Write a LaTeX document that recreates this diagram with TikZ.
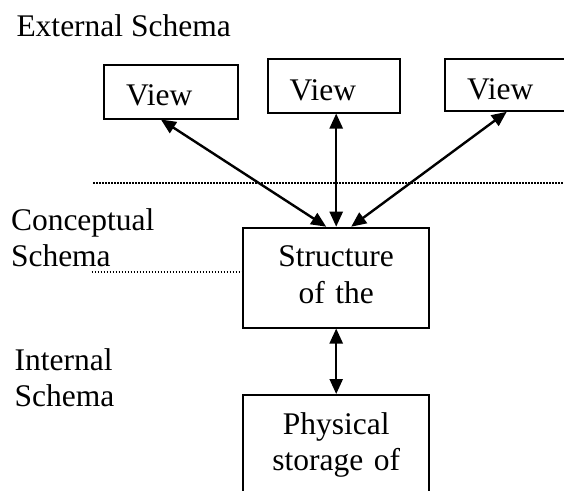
\documentclass[tikz,border=0pt]{standalone}
\usepackage{fontspec}
\setmainfont{Liberation Serif}
\usetikzlibrary{arrows.meta}
\tikzset{
  box/.style={draw, line width=1.8pt, inner ysep=0pt, anchor=north west},
  lbl/.style={inner sep=0pt, anchor=base west, align=left},
  arr/.style={{Triangle[length=15pt,width=13pt]}-{Triangle[length=15pt,width=13pt]}, line width=2.4pt},
  dotline/.style={line width=1.7pt, dash pattern=on 1.5pt off 1.5pt}
}
\begin{document}
\begin{tikzpicture}[x=1pt,y=-1pt,font=\fontsize{31.5}{36.5}\selectfont]
\useasboundingbox (0,0) rectangle (564,490);
\clip (0,0) rectangle (564,490);
% labels (base anchor = baseline of the last line)
\node[lbl] (ext) at (16.3,36) {External Schema};
\node[lbl] (con) at (10.8,266.7) {Conceptual\\Schema};
\node[lbl] (int) at (14.4,406.5) {Internal\\Schema};
% view boxes
\node[box, minimum width=134pt, minimum height=53.7pt, inner xsep=22.5pt, text width=89pt, align=left, text height=26.9pt, text depth=0pt] (v1) at (102.7,64) {View};
\node[box, minimum width=132.6pt, minimum height=53.4pt, inner xsep=22.1pt, text width=88.4pt, align=left, text height=28.6pt, text depth=0pt] (v2) at (266.7,58.3) {View};
\node[box, minimum width=133pt, minimum height=51.7pt, inner xsep=21.9pt, text width=89.2pt, align=left, text height=28.3pt, text depth=0pt] (v3) at (444.3,58.3) {View};
% structure
\node[box, minimum width=186pt, minimum height=100pt, text width=170pt, align=center, text height=18pt, text depth=40pt] (s) at (242.3,226.7) {Structure\\of the};
% physical
\node[box, minimum width=186pt, minimum height=120pt, text width=170pt, align=center, text height=20pt, text depth=61.4pt] (p) at (242.3,394) {Physical\\storage of};
% dotted lines
\coordinate (d1a) at (93.3,182.7);
\coordinate (d1b) at (570,182.7);
\coordinate (d2a) at (91.7,271.7);
\draw[dotline] (d1a) -- (d1b);
\draw[dotline] (d2a) -- (d2a -| s.west);
% arrows
\draw[arr] ([xshift=-9.7pt]v1.south) -- ([xshift=-10pt]s.north);
\draw[arr] (s.north |- v2.south) -- (s.north);
\draw[arr] ([xshift=62.4pt]v3.south west) -- ([xshift=15pt]s.north);
\draw[arr] (s.south) -- (p.north);
\end{tikzpicture}
\end{document}
